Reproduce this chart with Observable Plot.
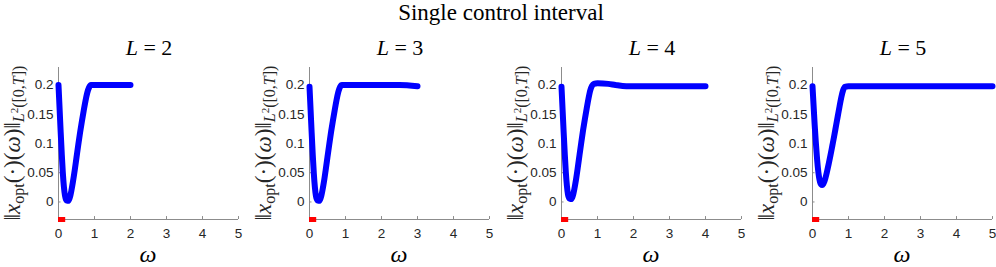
<!DOCTYPE html>
<html><head><meta charset="utf-8">
<script src="https://cdn.jsdelivr.net/npm/d3@7"></script>
<script src="https://cdn.jsdelivr.net/npm/@observablehq/plot@0.6"></script>
<style>
body{margin:0;background:#fff;}
#wrap{position:relative;width:996px;height:267px;overflow:hidden;background:#fff;}
#title{position:absolute;top:0;left:0;width:1002px;text-align:center;font-family:"Liberation Serif","DejaVu Serif",serif;font-size:23px;line-height:26px;height:26px;color:#000;}
.panel{position:absolute;top:26px;}
</style></head><body>
<div id="wrap"><div id="title">Single control interval</div></div>
<script>
const mainTitle = "Single control interval";
const Ls = [2, 3, 4, 5];
const xTicks = [0, 1, 2, 3, 4, 5];
const yTicks = [0, 0.05, 0.1, 0.15, 0.2];
const controlInterval = [0, 0.2];

const omegaL2 = [0,0.03,0.06,0.09,0.12,0.15,0.18,0.21,0.24,0.27,0.30,0.33,0.36,0.40,0.45,0.50,0.55,0.60,0.65,0.70,0.75,0.80,0.85,0.90,1.0,1.5,2.0];
const normL2  = [0.200,0.160,0.120,0.083,0.050,0.026,0.011,0.004,0.002,0.002,0.005,0.011,0.020,0.034,0.054,0.076,0.098,0.119,0.138,0.156,0.173,0.187,0.196,0.200,0.200,0.200,0.200];

const omegaL3 = [0,0.03,0.06,0.09,0.12,0.15,0.18,0.21,0.24,0.27,0.30,0.33,0.36,0.40,0.45,0.50,0.55,0.60,0.65,0.70,0.75,0.80,0.85,0.90,1.0,1.5,2.0,2.5,3.0];
const normL3  = [0.197,0.158,0.118,0.081,0.049,0.025,0.010,0.004,0.002,0.002,0.005,0.011,0.020,0.034,0.055,0.077,0.099,0.120,0.139,0.157,0.174,0.188,0.197,0.200,0.200,0.200,0.200,0.200,0.198];

const omegaL4 = [0,0.03,0.06,0.09,0.12,0.15,0.18,0.21,0.24,0.27,0.30,0.33,0.36,0.40,0.45,0.50,0.55,0.60,0.65,0.70,0.75,0.80,0.85,0.90,1.0,1.3,1.5,1.8,2.5,3.0,4.0];
const normL4  = [0.197,0.158,0.119,0.083,0.051,0.028,0.013,0.007,0.005,0.005,0.008,0.014,0.023,0.037,0.058,0.080,0.102,0.123,0.142,0.160,0.177,0.191,0.199,0.202,0.203,0.202,0.200,0.198,0.198,0.198,0.198];

const omegaL5 = [0,0.03,0.06,0.09,0.12,0.15,0.18,0.21,0.24,0.27,0.30,0.33,0.36,0.40,0.45,0.50,0.55,0.60,0.65,0.70,0.75,0.80,0.85,0.90,1.0,2.0,3.0,4.0,5.0];
const normL5  = [0.198,0.165,0.132,0.104,0.079,0.058,0.043,0.034,0.030,0.029,0.031,0.035,0.041,0.051,0.065,0.080,0.096,0.112,0.129,0.146,0.163,0.179,0.191,0.197,0.198,0.198,0.198,0.198,0.198];

const series = [
  {L: 2, omega: omegaL2, norm: normL2},
  {L: 3, omega: omegaL3, norm: normL3},
  {L: 4, omega: omegaL4, norm: normL4},
  {L: 5, omega: omegaL5, norm: normL5}
];

const axisGrey = "#8c8c8c";
const serif = "Liberation Serif, DejaVu Serif, serif";
const wrap = document.getElementById("wrap");

series.forEach((s, i) => {
  const data = s.omega.map((w, k) => ({w, v: s.norm[k]}));
  const plot = Plot.plot({
    width: 243, height: 241,
    marginLeft: 58, marginRight: 5, marginTop: 41, marginBottom: 48,
    x: {domain: [0, 5]},
    y: {domain: [-0.03, 0.23]},
    style: {fontFamily: "Liberation Sans, Arial, sans-serif", fontSize: "13.5px", color: "#262626", background: "transparent", overflow: "visible"},
    marks: [
      Plot.ruleX([0], {stroke: axisGrey}),
      Plot.ruleY([-0.03], {stroke: axisGrey}),
      Plot.ruleY(yTicks, {x1: 0, x2: 0.07, stroke: axisGrey}),
      Plot.ruleX(xTicks, {y1: -0.03, y2: -0.025, stroke: axisGrey}),
      Plot.axisY(yTicks, {tickSize: 0, tickPadding: 5, tickFormat: d => String(d), label: null}),
      Plot.axisX(xTicks, {tickSize: 0, tickPadding: 9, label: null}),
      Plot.line(data, {x: "w", y: "v", stroke: "#0000ff", strokeWidth: 6, curve: "monotone-x", strokeLinecap: "round", strokeLinejoin: "round"}),
      Plot.ruleY([-0.03], {x1: controlInterval[0], x2: controlInterval[1], stroke: "#ff0000", strokeWidth: 5})
    ]
  });
  plot.classList.add("panel");
  plot.style.left = (251.3 * i) + "px";
  plot.style.position = "absolute";
  plot.style.top = "26px";
  wrap.appendChild(plot);

  const svg = d3.select(plot);
  const cx = 58 + 90;
  // subplot title
  const t = svg.append("text").attr("x", cx + 1).attr("y", 29).attr("text-anchor", "middle")
    .attr("font-family", serif).attr("font-size", 22).attr("fill", "#000");
  t.append("tspan").attr("font-style", "italic").text("L");
  t.append("tspan").text(" = " + s.L);

  // x label
  svg.append("text").attr("x", cx).attr("y", 236).attr("text-anchor", "middle")
    .attr("font-family", serif).attr("font-size", 24).attr("font-style", "italic").attr("fill", "#000").text("ω");

  // y label
  const yl = svg.append("text").attr("transform", `translate(20,${(41 + 193) / 2}) rotate(-90)`)
    .attr("text-anchor", "middle").attr("font-family", serif).attr("font-size", 23).attr("fill", "#262626");
  yl.append("tspan").text("‖");
  yl.append("tspan").attr("font-style", "italic").text("x");
  yl.append("tspan").attr("font-size", 16).attr("dy", 4).text("opt");
  yl.append("tspan").attr("dy", -4).text("(·)(");
  yl.append("tspan").attr("font-style", "italic").text("ω");
  yl.append("tspan").text(")‖");
  yl.append("tspan").attr("font-size", 16).attr("dy", 4).attr("font-style", "italic").text("L");
  yl.append("tspan").attr("font-size", 11).attr("dy", -6).text("2");
  yl.append("tspan").attr("font-size", 16).attr("dy", 6).text("([0,");
  yl.append("tspan").attr("font-size", 16).attr("font-style", "italic").text("T");
  yl.append("tspan").attr("font-size", 16).text("])");
});
</script>
</body></html>
